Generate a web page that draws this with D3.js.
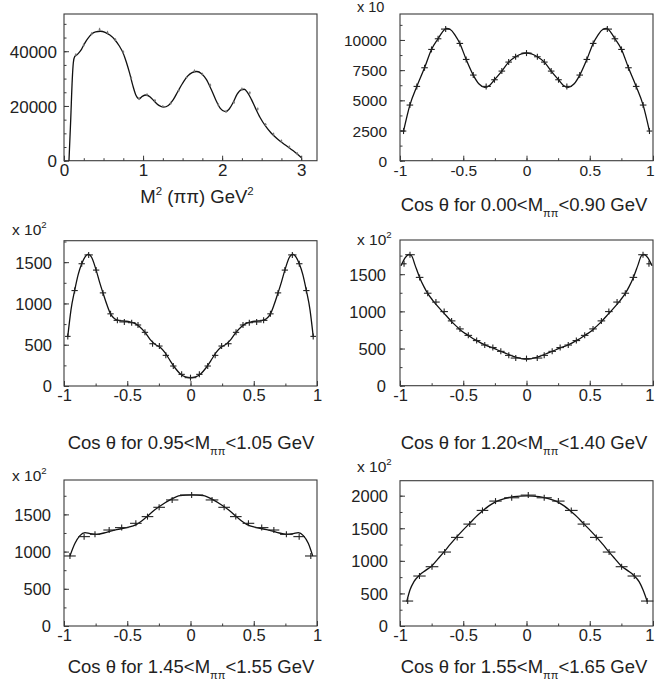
<!DOCTYPE html>
<html>
<head>
<meta charset="utf-8">
<script src="https://cdn.jsdelivr.net/npm/d3@7"></script>
<style>
  html, body { margin: 0; padding: 0; background: #fff; }
  svg { display: block; }
</style>
</head>
<body>
<svg id="chart" width="655" height="681"></svg>
<script>
// ---------------------------------------------------------------
// M²(ππ) spectrum: fitted curve and measured points
// ---------------------------------------------------------------
const massFitX = [0.063,0.085,0.105,0.118,0.135,0.16,0.19,0.223,0.26,0.30,0.35,0.40,0.46,0.52,0.58,0.64,0.70,0.75,0.79,0.83,0.87,0.91,0.95,0.99,1.04,1.09,1.14,1.20,1.26,1.32,1.38,1.44,1.50,1.56,1.62,1.68,1.74,1.80,1.86,1.92,1.98,2.04,2.09,2.14,2.19,2.24,2.28,2.32,2.37,2.42,2.48,2.55,2.62,2.70,2.80,2.90,3.00];
const massFitY = [0,15000,30000,35800,38000,38600,39500,40800,42800,44600,46300,47100,47300,46900,45900,44300,41900,39200,35900,32000,27500,23900,22600,23500,24000,23300,21800,20200,19600,20200,22200,25300,28300,30800,32200,32600,31800,29700,26200,22200,19000,17900,18900,21300,24300,25900,26100,25000,22400,19300,15800,12600,10100,7900,5700,3600,1200];
const massDataX = [0.15,0.25,0.35,0.45,0.55,0.65,0.75,0.85,0.95,1.05,1.15,1.25,1.35,1.45,1.55,1.65,1.75,1.85,1.95,2.05,2.15,2.25,2.35,2.45,2.55,2.65,2.75,2.85,2.95];
const massDataY = [38700,42300,46400,48000,46900,44200,39700,30200,22700,24100,22000,19800,21000,25600,30400,32800,31600,27600,20500,18000,21300,26200,24800,18900,13200,9700,7200,5000,2600];
const massTicksX = [0,1,2,3];
const massTicksY = [0,20000,40000];

// ---------------------------------------------------------------
// cos θ distributions in Mππ slices (data, bin half-widths, fits)
// ---------------------------------------------------------------
// 0.00 < Mππ < 0.90 GeV   (axis in units of 10)
const cosA_X = [-0.972,-0.922,-0.867,-0.806,-0.751,-0.699,-0.639,-0.527,-0.477,-0.421,-0.319,-0.253,-0.195,-0.141,-0.086,0,0.086,0.141,0.195,0.253,0.319,0.421,0.477,0.527,0.639,0.699,0.751,0.806,0.867,0.922,0.972];
const cosA_Y = [2456,4608,6153,7698,9216,10099,10900,9713,8388,7092,6153,6705,7422,8167,8609,8913,8609,8167,7422,6705,6153,7092,8388,9713,10900,10099,9216,7698,6153,4608,2456];
const cosA_W = [0.022,0.026,0.026,0.026,0.026,0.026,0.037,0.026,0.026,0.026,0.037,0.026,0.026,0.026,0.026,0.040,0.026,0.026,0.026,0.026,0.037,0.026,0.026,0.026,0.037,0.026,0.026,0.026,0.026,0.026,0.022];
const cosA_FitX = [-0.972,-0.922,-0.867,-0.806,-0.751,-0.699,-0.665,-0.635,-0.600,-0.565,-0.527,-0.477,-0.421,-0.375,-0.330,-0.290,-0.253,-0.195,-0.141,-0.086,-0.040,0,0.040,0.086,0.141,0.195,0.253,0.290,0.330,0.375,0.421,0.477,0.527,0.565,0.600,0.635,0.665,0.699,0.751,0.806,0.867,0.922,0.972];
const cosA_FitY = [2456,4608,6153,7698,9216,10099,10650,10950,10850,10400,9713,8388,7092,6350,6080,6250,6705,7422,8167,8609,8850,8920,8850,8609,8167,7422,6705,6250,6080,6350,7092,8388,9713,10400,10850,10950,10650,10099,9216,7698,6153,4608,2456];
const cosA_TicksY = [0,2500,5000,7500,10000];

// 0.95 < Mππ < 1.05 GeV   (axis in units of 10²)
const cosB_X = [-0.970,-0.916,-0.860,-0.805,-0.746,-0.692,-0.632,-0.578,-0.523,-0.465,-0.415,-0.360,-0.300,-0.246,-0.195,-0.136,-0.070,0,0.070,0.136,0.195,0.246,0.300,0.360,0.415,0.465,0.523,0.578,0.632,0.692,0.746,0.805,0.860,0.916,0.970];
const cosB_Y = [601,1156,1481,1588,1404,1128,874,795,776,767,739,650,512,484,371,242,141,101,141,242,371,484,512,650,739,767,776,795,874,1128,1404,1588,1481,1156,601];
const cosB_W = [0.022,0.025,0.025,0.033,0.025,0.025,0.025,0.030,0.040,0.030,0.025,0.025,0.025,0.025,0.025,0.025,0.025,0.046,0.025,0.025,0.025,0.025,0.025,0.025,0.025,0.030,0.040,0.030,0.025,0.025,0.025,0.033,0.025,0.025,0.022];
const cosB_FitX = [-0.970,-0.945,-0.916,-0.888,-0.860,-0.832,-0.808,-0.782,-0.746,-0.720,-0.692,-0.662,-0.632,-0.600,-0.560,-0.520,-0.480,-0.440,-0.400,-0.360,-0.320,-0.280,-0.240,-0.200,-0.160,-0.120,-0.080,-0.040,0,0.040,0.080,0.120,0.160,0.200,0.240,0.280,0.320,0.360,0.400,0.440,0.480,0.520,0.560,0.600,0.632,0.662,0.692,0.720,0.746,0.782,0.808,0.832,0.860,0.888,0.916,0.945,0.970];
const cosB_FitY = [601,920,1156,1350,1481,1568,1598,1560,1404,1265,1128,990,874,815,792,786,778,758,715,650,565,505,468,400,305,215,145,110,100,110,145,215,305,400,468,505,565,650,715,758,778,786,792,815,874,990,1128,1265,1404,1560,1598,1568,1481,1350,1156,920,601];
const cosB_TicksY = [0,500,1000,1500];

// 1.20 < Mππ < 1.40 GeV
const cosC_X = [-0.968,-0.921,-0.845,-0.781,-0.716,-0.651,-0.592,-0.526,-0.460,-0.394,-0.330,-0.266,-0.203,-0.140,-0.085,0,0.085,0.140,0.203,0.266,0.330,0.394,0.460,0.526,0.592,0.651,0.716,0.781,0.845,0.921,0.968];
const cosC_Y = [1640,1762,1457,1244,1125,997,872,764,677,607,547,513,462,408,372,365,372,408,462,513,547,607,677,764,872,997,1125,1244,1457,1762,1640];
const cosC_W = [0.020,0.038,0.030,0.030,0.030,0.030,0.030,0.030,0.030,0.030,0.030,0.030,0.030,0.030,0.040,0.045,0.040,0.030,0.030,0.030,0.030,0.030,0.030,0.030,0.030,0.030,0.030,0.030,0.030,0.038,0.020];
const cosC_FitX = [-0.992,-0.960,-0.929,-0.908,-0.881,-0.845,-0.810,-0.776,-0.743,-0.710,-0.677,-0.644,-0.611,-0.578,-0.545,-0.513,-0.473,-0.433,-0.394,-0.354,-0.315,-0.275,-0.236,-0.196,-0.156,-0.117,-0.080,-0.040,0,0.040,0.080,0.117,0.156,0.196,0.236,0.275,0.315,0.354,0.394,0.433,0.473,0.513,0.545,0.578,0.611,0.644,0.677,0.710,0.743,0.776,0.810,0.845,0.881,0.908,0.929,0.960,0.992];
const cosC_FitY = [1613,1720,1765,1747,1622,1457,1330,1228,1152,1084,1020,959,898,838,785,735,690,645,607,569,540,515,487,457,430,403,380,365,358,365,380,403,430,457,487,515,540,569,607,645,690,735,785,838,898,959,1020,1084,1152,1228,1330,1457,1622,1747,1765,1720,1613];
const cosC_TicksY = [0,500,1000,1500];

// 1.45 < Mππ < 1.55 GeV
const cosD_X = [-0.953,-0.841,-0.755,-0.643,-0.544,-0.432,-0.340,-0.248,-0.145,0.009,0.170,0.266,0.358,0.458,0.563,0.659,0.758,0.859,0.951];
const cosD_Y = [941,1201,1232,1290,1322,1380,1470,1595,1694,1761,1694,1595,1470,1380,1322,1290,1232,1201,941];
const cosD_W = [0.046,0.046,0.040,0.046,0.053,0.046,0.046,0.046,0.049,0.092,0.050,0.046,0.046,0.046,0.053,0.043,0.050,0.046,0.046];
const cosD_FitX = [-0.953,-0.913,-0.874,-0.834,-0.794,-0.742,-0.663,-0.584,-0.505,-0.426,-0.360,-0.294,-0.228,-0.162,-0.083,0.009,0.101,0.180,0.246,0.312,0.378,0.444,0.523,0.602,0.681,0.760,0.813,0.852,0.892,0.931,0.966];
const cosD_FitY = [941,1111,1214,1254,1241,1232,1259,1295,1322,1366,1447,1546,1626,1694,1752,1761,1752,1694,1626,1546,1447,1366,1322,1295,1259,1232,1241,1254,1214,1111,941];
const cosD_TicksY = [0,500,1000,1500];

// 1.55 < Mππ < 1.65 GeV
const cosE_X = [-0.939,-0.846,-0.747,-0.647,-0.548,-0.449,-0.348,-0.245,-0.117,0.014,0.140,0.252,0.354,0.453,0.552,0.653,0.752,0.852,0.954];
const cosE_Y = [383,767,910,1135,1360,1564,1774,1917,1968,2009,1968,1917,1774,1564,1360,1135,910,767,383];
const cosE_W = [0.043,0.049,0.050,0.050,0.049,0.050,0.046,0.049,0.060,0.060,0.060,0.049,0.050,0.049,0.050,0.050,0.047,0.053,0.049];
const cosE_FitX = [-0.947,-0.920,-0.890,-0.846,-0.800,-0.747,-0.700,-0.647,-0.600,-0.548,-0.500,-0.449,-0.400,-0.348,-0.300,-0.245,-0.180,-0.100,0,0.100,0.180,0.245,0.300,0.348,0.400,0.449,0.500,0.548,0.600,0.647,0.700,0.747,0.800,0.846,0.890,0.920,0.955];
const cosE_FitY = [373,560,680,780,850,925,1030,1150,1260,1375,1475,1575,1675,1765,1840,1905,1952,1985,1998,1985,1952,1905,1840,1765,1675,1575,1475,1375,1260,1150,1030,925,850,780,680,560,373];
const cosE_TicksY = [0,500,1000,1500,2000];

const cosTicksX = [-1,-0.5,0,0.5,1];
const sliceLow  = ["0.00","0.95","1.20","1.45","1.55"];
const sliceHigh = ["0.90","1.05","1.40","1.55","1.65"];

// ---------------------------------------------------------------
const WIDTH = 655;
const FONT = '"Liberation Sans", Arial, Helvetica, sans-serif';
const INK = "#222";
const svg = d3.select("#chart");

function zip(xs, ys, ws) {
  return xs.map((x, i) => ({ x, y: ys[i], w: ws ? ws[i] : 0 }));
}

// rich text: parts = [{t, mode}] where mode is "sub" | "sup" | undefined
function richText(g, x, y, parts, fs, anchor) {
  const t = g.append("text")
    .attr("x", x).attr("y", y)
    .attr("text-anchor", anchor || "middle")
    .attr("font-family", FONT)
    .attr("font-size", fs)
    .attr("fill", INK);
  let shift = 0;
  parts.forEach(p => {
    let target = 0, size = fs;
    if (p.mode === "sub") { target = 0.32 * fs; size = 0.6 * fs; }
    if (p.mode === "sup") { target = -0.42 * fs; size = 0.62 * fs; }
    t.append("tspan")
      .attr("dy", target - shift)
      .attr("font-size", size)
      .text(p.t);
    shift = target;
  });
  return t;
}

function drawPanel(p) {
  const x = d3.scaleLinear().domain(p.xDomain).range([p.left, p.right]);
  const y = d3.scaleLinear().domain(p.yDomain).range([p.bottom, p.top]);
  const g = svg.append("g");

  // frame
  g.append("rect")
    .attr("x", p.left).attr("y", p.top)
    .attr("width", p.right - p.left).attr("height", p.bottom - p.top)
    .attr("fill", "none").attr("stroke", "#3a3a3a").attr("stroke-width", 1.1);

  const axisStyle = s => {
    s.select(".domain").remove();
    s.attr("color", "#3a3a3a").attr("font-family", FONT).attr("font-size", p.tickFont);
    s.selectAll("text").attr("fill", INK);
  };

  // x minor + major ticks (pointing into the frame)
  g.append("g").attr("transform", `translate(0,${p.bottom})`)
    .call(d3.axisBottom(x).tickValues(p.xMinor).tickSize(-2.5).tickFormat(""))
    .call(axisStyle);
  g.append("g").attr("transform", `translate(0,${p.bottom})`)
    .call(d3.axisBottom(x).tickValues(p.xTicks).tickSize(-5).tickFormat(d => String(d)))
    .call(axisStyle)
    .call(s => s.selectAll("text")
      .attr("y", p.xLabelBase - p.bottom).attr("dy", null)
      // a label sitting on the page's right edge is pulled inside it
      .each(function (d) {
        if (x(d) + 4 > WIDTH) {
          d3.select(this).attr("text-anchor", "end").attr("x", WIDTH - 1 - x(d));
        }
      }));

  // y minor + major ticks
  g.append("g").attr("transform", `translate(${p.left},0)`)
    .call(d3.axisLeft(y).tickValues(p.yMinor).tickSize(-2.5).tickFormat(""))
    .call(axisStyle);
  g.append("g").attr("transform", `translate(${p.left},0)`)
    .call(d3.axisLeft(y).tickValues(p.yTicks).tickSize(-5).tickPadding(p.yPad).tickFormat(d => String(d)))
    .call(axisStyle)
    .call(s => s.selectAll("text").attr("dy", "0.36em"));

  // fitted curve
  g.append("path")
    .datum(zip(p.fitX, p.fitY))
    .attr("fill", "none")
    .attr("stroke", "#111")
    .attr("stroke-width", 1.3)
    .attr("d", d3.line().x(d => x(d.x)).y(d => y(d.y)).curve(d3.curveMonotoneX));

  // measured points: horizontal bin bar + short vertical error bar
  const pts = g.append("g").attr("stroke", p.markColor).attr("stroke-width", p.markWidth);
  const data = zip(p.dataX, p.dataY, p.dataW);
  pts.selectAll("line.h").data(data).join("line").attr("class", "h")
    .attr("x1", d => x(d.x - d.w)).attr("x2", d => x(d.x + d.w))
    .attr("y1", d => y(d.y)).attr("y2", d => y(d.y));
  pts.selectAll("line.v").data(data).join("line").attr("class", "v")
    .attr("x1", d => x(d.x)).attr("x2", d => x(d.x))
    .attr("y1", d => y(d.y) - p.errPx).attr("y2", d => y(d.y) + p.errPx);

  // axis multiplier
  if (p.mult) richText(g, p.mult.x, p.mult.y, p.mult.parts, p.tickFont - 1, "start");

  // x-axis title
  richText(g, p.titleX, p.titleY, p.title, p.titleFont, "middle");
}

function cosTitle(i) {
  return [
    { t: "Cos θ for " + sliceLow[i] + "<M" },
    { t: "ππ", mode: "sub" },
    { t: "<" + sliceHigh[i] + " GeV" }
  ];
}
const tenSquared = [{ t: "x 10" }, { t: "2", mode: "sup" }];
const cosMinorX = d3.range(-1, 1.001, 0.25);

const panels = [
  {
    left: 64, right: 317, top: 14, bottom: 160.7,
    xDomain: [0, 3.2], yDomain: [0, 53600],
    xTicks: massTicksX, xMinor: d3.range(0, 3.2, 0.25),
    yTicks: massTicksY, yMinor: d3.range(0, 53600, 5000),
    tickFont: 17, yPad: 7, xLabelBase: 176,
    fitX: massFitX, fitY: massFitY,
    dataX: massDataX, dataY: massDataY, dataW: massDataX.map(() => 0.012),
    markColor: "#777", markWidth: 1, errPx: 1.5,
    title: [{ t: "M" }, { t: "2", mode: "sup" }, { t: " (ππ) GeV" }, { t: "2", mode: "sup" }],
    titleX: 197, titleY: 203, titleFont: 18.5
  },
  {
    left: 400, right: 653, top: 14, bottom: 160.7,
    xDomain: [-1, 1], yDomain: [0, 12150],
    xTicks: cosTicksX, xMinor: cosMinorX,
    yTicks: cosA_TicksY, yMinor: d3.range(0, 12150, 1250),
    tickFont: 15.5, yPad: 13, xLabelBase: 176,
    fitX: cosA_FitX, fitY: cosA_FitY,
    dataX: cosA_X, dataY: cosA_Y, dataW: cosA_W,
    markColor: "#222", markWidth: 1.1, errPx: 3,
    mult: { x: 357, y: 12, parts: [{ t: "x 10" }] },
    title: cosTitle(0), titleX: 524, titleY: 211, titleFont: 18.5
  },
  {
    left: 64, right: 317, top: 240.7, bottom: 386,
    xDomain: [-1, 1], yDomain: [0, 1760],
    xTicks: cosTicksX, xMinor: cosMinorX,
    yTicks: cosB_TicksY, yMinor: d3.range(0, 1760, 250),
    tickFont: 16.5, yPad: 12, xLabelBase: 401,
    fitX: cosB_FitX, fitY: cosB_FitY,
    dataX: cosB_X, dataY: cosB_Y, dataW: cosB_W,
    markColor: "#222", markWidth: 1.1, errPx: 3,
    mult: { x: 12, y: 235, parts: tenSquared },
    title: cosTitle(1), titleX: 191, titleY: 449, titleFont: 18.5
  },
  {
    left: 400, right: 653, top: 240, bottom: 385.7,
    xDomain: [-1, 1], yDomain: [0, 1960],
    xTicks: cosTicksX, xMinor: cosMinorX,
    yTicks: cosC_TicksY, yMinor: d3.range(0, 1960, 250),
    tickFont: 16.5, yPad: 14, xLabelBase: 401,
    fitX: cosC_FitX, fitY: cosC_FitY,
    dataX: cosC_X, dataY: cosC_Y, dataW: cosC_W,
    markColor: "#222", markWidth: 1.1, errPx: 3,
    mult: { x: 357, y: 245, parts: tenSquared },
    title: cosTitle(2), titleX: 524, titleY: 449, titleFont: 18.5
  },
  {
    left: 64, right: 317, top: 480, bottom: 626,
    xDomain: [-1, 1], yDomain: [0, 1962],
    xTicks: cosTicksX, xMinor: cosMinorX,
    yTicks: cosD_TicksY, yMinor: d3.range(0, 1962, 250),
    tickFont: 16.5, yPad: 13, xLabelBase: 641,
    fitX: cosD_FitX, fitY: cosD_FitY,
    dataX: cosD_X, dataY: cosD_Y, dataW: cosD_W,
    markColor: "#222", markWidth: 1.1, errPx: 3,
    mult: { x: 12, y: 481, parts: tenSquared },
    title: cosTitle(3), titleX: 191, titleY: 673, titleFont: 18.5
  },
  {
    left: 400, right: 653, top: 480.7, bottom: 626,
    xDomain: [-1, 1], yDomain: [0, 2230],
    xTicks: cosTicksX, xMinor: cosMinorX,
    yTicks: cosE_TicksY, yMinor: d3.range(0, 2230, 250),
    tickFont: 16.5, yPad: 12, xLabelBase: 641,
    fitX: cosE_FitX, fitY: cosE_FitY,
    dataX: cosE_X, dataY: cosE_Y, dataW: cosE_W,
    markColor: "#222", markWidth: 1.1, errPx: 3,
    mult: { x: 357, y: 472, parts: tenSquared },
    title: cosTitle(4), titleX: 524, titleY: 673, titleFont: 18.5
  }
];

panels.forEach(drawPanel);
</script>
</body>
</html>
